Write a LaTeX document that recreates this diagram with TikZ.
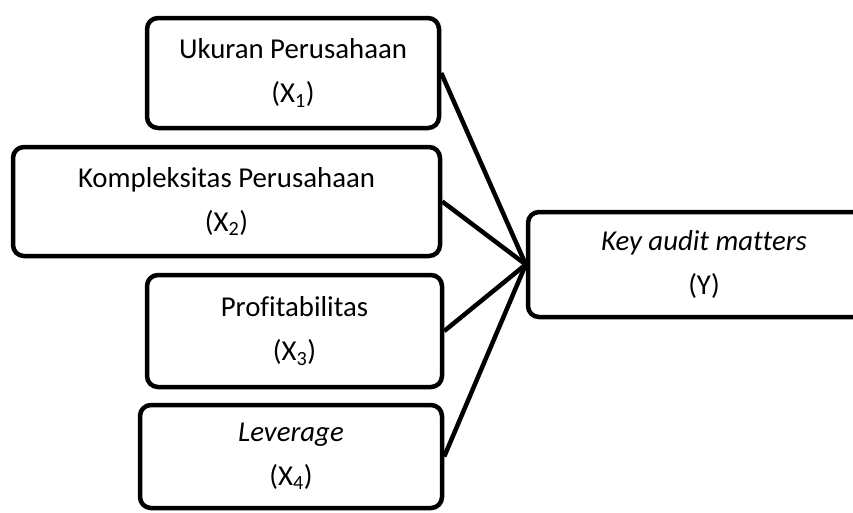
\documentclass[tikz,border=0pt]{standalone}
\usepackage{fontspec}
\setmainfont{Carlito}[Ligatures=CommonOff]
\usepackage{tikz}
\usetikzlibrary{positioning}

\begin{document}
\begin{tikzpicture}[x=1pt, y=-1pt,
  varbox/.style={draw, line width=4.5pt, rounded corners=11pt, inner sep=0pt,
    align=center, font=\fontsize{28.8}{44}\selectfont},
  link/.style={line width=4.5pt}]
  \clip (0,0) rectangle (853,512);
  % independent variables
  \node[varbox, minimum width=292pt, minimum height=110pt] (ukuran) at (293,73)
    {Ukuran Perusahaan\\(X\textsubscript{1})};
  \node[varbox, minimum width=427pt, minimum height=109pt] (kompleks) at (226.5,201.5)
    {Kompleksitas Perusahaan\\(X\textsubscript{2})};
  \node[varbox, minimum width=295pt, minimum height=112pt] (profit) at (294.5,331)
    {Profitabilitas\\(X\textsubscript{3})};
  \node[varbox, minimum width=302pt, minimum height=103pt] (lev) at (291,456.5)
    {\textit{Leverage}\\(X\textsubscript{4})};
  % dependent variable
  \node[varbox, minimum width=352pt, minimum height=105pt] (kam) at (704,264.5)
    {\textit{Key audit matters}\\(Y)};
  % connectors
  \foreach \v in {ukuran, kompleks, profit, lev}
    \draw[link] (\v.east) -- (kam.west);
\end{tikzpicture}
\end{document}
